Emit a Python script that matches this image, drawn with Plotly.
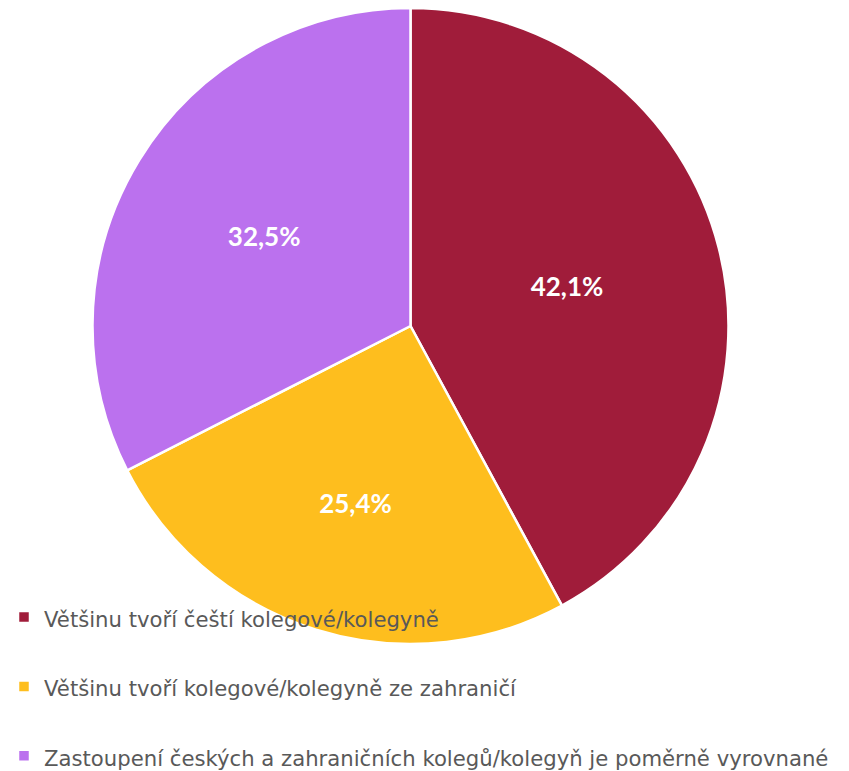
import plotly.graph_objects as go

labels = [
    "Většinu tvoří čeští kolegové/kolegyně",
    "Většinu tvoří kolegové/kolegyně ze zahraničí",
    "Zastoupení českých a zahraničních kolegů/kolegyň je poměrně vyrovnané",
]
values = [42.1, 25.4, 32.5]
colors = ["#A01C3A", "#FEBE1E", "#BB71EE"]

W, H = 849, 771
LEG_FONT = 21.2
SPACER_FONT = 25.5
# visible legend text at LEG_FONT; the legend font size only sets row spacing
legend_labels = [
    f"<span style='font-size:{LEG_FONT}px'>{l}</span>" + ("<br> " if i < len(labels) - 1 else "")
    for i, l in enumerate(labels)
]

fig = go.Figure(go.Pie(
    labels=legend_labels,
    values=values,
    sort=False,
    direction="clockwise",
    rotation=0,
    marker=dict(colors=colors, line=dict(color="white", width=2.5)),
    texttemplate="<b>%{percent:.1%}</b>",
    textposition="inside",
    insidetextorientation="horizontal",
    textfont=dict(color="white", size=26, family="Lato"),
    hovertemplate="%{customdata}: %{percent:.1%}<extra></extra>",
    customdata=labels,
    domain=dict(x=[84 / W, 721 / W], y=[1 - 636 / H, 1 - 0 / H]),
))

fig.update_layout(
    width=W, height=H,
    margin=dict(l=0, r=0, t=0, b=0, autoexpand=False),
    paper_bgcolor="white",
    separators=", ",
    showlegend=True,
    legend=dict(
        x=-4 / W, y=0.0, xanchor="left", yanchor="bottom",
        font=dict(family="DejaVu Sans", size=SPACER_FONT, color="#595959"),
        valign="top",
        bgcolor="rgba(0,0,0,0)",
        itemclick=False,
    ),
)

fig.write_html("out.html")
